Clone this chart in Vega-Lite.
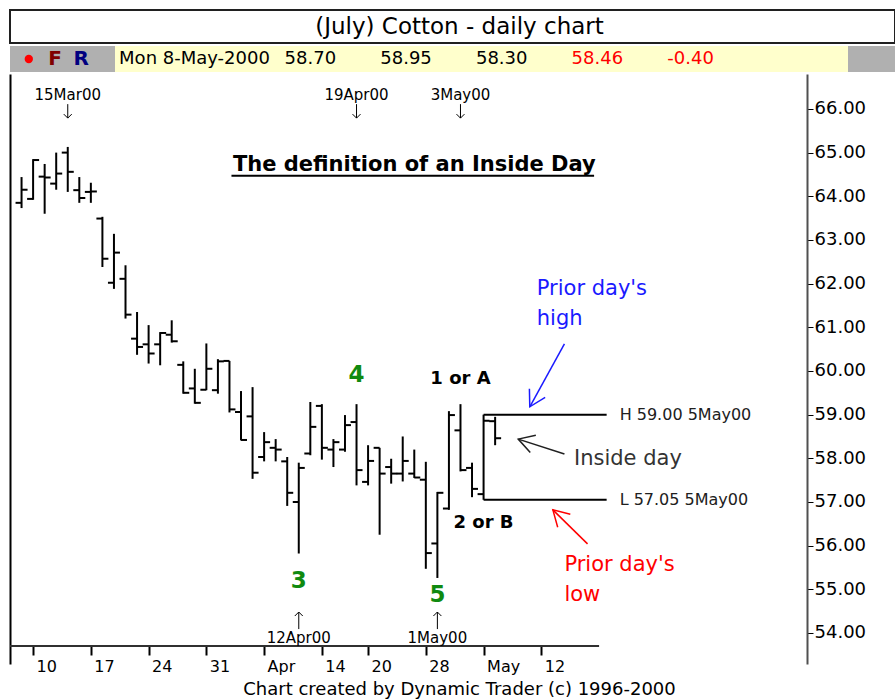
{
  "$schema": "https://vega.github.io/schema/vega-lite/v6.json",
  "background": "white",
  "padding": {"left": 9, "top": 9, "right": 0, "bottom": 0},
  "spacing": 2,
  "resolve": {"scale": {"color": "independent"}},
  "config": {"view": {"stroke": null}, "font": "DejaVu Sans", "axis": {"grid": false}},
  "datasets": {
    "bars": [
      {"date": "2000-03-09", "open": 63.85, "high": 64.44, "low": 63.73, "close": 64.15},
      {"date": "2000-03-10", "open": 63.94, "high": 64.85, "low": 63.92, "close": 64.83},
      {"date": "2000-03-13", "open": 64.45, "high": 64.74, "low": 63.60, "close": 64.43},
      {"date": "2000-03-14", "open": 64.29, "high": 65.00, "low": 64.15, "close": 64.52},
      {"date": "2000-03-15", "open": 65.00, "high": 65.13, "low": 64.10, "close": 64.56},
      {"date": "2000-03-16", "open": 64.14, "high": 64.44, "low": 63.85, "close": 63.96},
      {"date": "2000-03-17", "open": 64.10, "high": 64.31, "low": 63.85, "close": 64.11},
      {"date": "2000-03-20", "open": 63.49, "high": 63.53, "low": 62.38, "close": 62.57},
      {"date": "2000-03-21", "open": 62.02, "high": 63.14, "low": 61.88, "close": 62.71},
      {"date": "2000-03-22", "open": 62.11, "high": 62.42, "low": 61.20, "close": 61.29},
      {"date": "2000-03-23", "open": 60.74, "high": 61.35, "low": 60.37, "close": 60.55},
      {"date": "2000-03-24", "open": 60.61, "high": 61.05, "low": 60.17, "close": 60.40},
      {"date": "2000-03-27", "open": 60.61, "high": 60.89, "low": 60.13, "close": 60.87},
      {"date": "2000-03-28", "open": 60.83, "high": 61.16, "low": 60.65, "close": 60.68},
      {"date": "2000-03-29", "open": 60.14, "high": 60.22, "low": 59.48, "close": 59.50},
      {"date": "2000-03-30", "open": 59.60, "high": 60.05, "low": 59.25, "close": 59.27},
      {"date": "2000-03-31", "open": 59.57, "high": 60.63, "low": 59.56, "close": 60.05},
      {"date": "2000-04-03", "open": 59.56, "high": 60.27, "low": 59.48, "close": 60.22},
      {"date": "2000-04-04", "open": 60.23, "high": 60.23, "low": 59.05, "close": 59.12},
      {"date": "2000-04-05", "open": 59.06, "high": 59.54, "low": 58.41, "close": 58.42},
      {"date": "2000-04-06", "open": 58.96, "high": 59.63, "low": 57.53, "close": 57.67},
      {"date": "2000-04-07", "open": 58.03, "high": 58.60, "low": 57.93, "close": 58.37},
      {"date": "2000-04-10", "open": 58.24, "high": 58.44, "low": 57.93, "close": 58.20},
      {"date": "2000-04-11", "open": 57.93, "high": 58.03, "low": 56.91, "close": 57.21},
      {"date": "2000-04-12", "open": 57.00, "high": 57.90, "low": 55.82, "close": 57.78},
      {"date": "2000-04-13", "open": 58.11, "high": 59.29, "low": 58.07, "close": 58.72},
      {"date": "2000-04-14", "open": 59.20, "high": 59.24, "low": 57.97, "close": 58.24},
      {"date": "2000-04-17", "open": 58.20, "high": 58.44, "low": 57.80, "close": 58.37},
      {"date": "2000-04-18", "open": 58.20, "high": 58.99, "low": 58.15, "close": 58.76},
      {"date": "2000-04-19", "open": 58.83, "high": 59.24, "low": 57.38, "close": 57.73},
      {"date": "2000-04-20", "open": 57.46, "high": 58.30, "low": 57.38, "close": 57.94},
      {"date": "2000-04-24", "open": 58.24, "high": 58.24, "low": 56.25, "close": 57.65},
      {"date": "2000-04-25", "open": 57.80, "high": 57.99, "low": 57.42, "close": 57.65},
      {"date": "2000-04-26", "open": 57.65, "high": 58.50, "low": 57.47, "close": 57.94},
      {"date": "2000-04-27", "open": 57.65, "high": 58.20, "low": 57.55, "close": 57.56},
      {"date": "2000-04-28", "open": 57.51, "high": 57.92, "low": 55.47, "close": 55.83},
      {"date": "2000-05-01", "open": 56.05, "high": 57.23, "low": 55.26, "close": 57.21},
      {"date": "2000-05-02", "open": 56.85, "high": 59.08, "low": 56.82, "close": 58.99},
      {"date": "2000-05-03", "open": 58.64, "high": 59.24, "low": 57.70, "close": 57.73},
      {"date": "2000-05-04", "open": 57.78, "high": 57.90, "low": 57.11, "close": 57.30},
      {"date": "2000-05-05", "open": 57.18, "high": 59.00, "low": 57.05, "close": 58.86},
      {"date": "2000-05-08", "open": 58.85, "high": 58.95, "low": 58.30, "close": 58.46}
    ],
    "hl": [
      {"date": "2000-05-05", "date2": "2000-05-22", "price": 59.00, "label": "H 59.00 5May00"},
      {"date": "2000-05-05", "date2": "2000-05-22", "price": 57.05, "label": "L 57.05 5May00"}
    ],
    "topDates": [
      {"date": "2000-03-15", "label": "15Mar00"},
      {"date": "2000-04-19", "label": "19Apr00"},
      {"date": "2000-05-03", "label": "3May00"}
    ],
    "bottomDates": [
      {"date": "2000-04-12", "label": "12Apr00"},
      {"date": "2000-05-01", "label": "1May00"}
    ],
    "green": [
      {"date": "2000-04-19", "price": 59.75, "label": "4"},
      {"date": "2000-04-12", "price": 55.04, "label": "3"},
      {"date": "2000-05-01", "price": 54.71, "label": "5"}
    ],
    "waves": [
      {"date": "2000-05-03", "price": 59.70, "label": "1 or A"},
      {"date": "2000-05-05", "price": 56.40, "label": "2 or B"}
    ],
    "heading": [{"date": "2000-04-27", "price": 64.58, "label": "The definition of an Inside Day"}],
    "underline": [{"date": "2000-04-04", "date2": "2000-05-19", "price": 64.47}],
    "blueNote": [
      {"date": "2000-05-11", "price": 61.74, "label": "Prior day's"},
      {"date": "2000-05-11", "price": 61.05, "label": "high"}
    ],
    "redNote": [
      {"date": "2000-05-16", "price": 55.41, "label": "Prior day's"},
      {"date": "2000-05-16", "price": 54.73, "label": "low"}
    ],
    "insideNote": [{"date": "2000-05-17", "price": 57.84, "label": "Inside day"}],
    "blueArrow": [{"date": "2000-05-16", "price": 60.62, "date2": "2000-05-11", "price2": 59.18}],
    "blackArrow": [{"date": "2000-05-16", "price": 58.10, "date2": "2000-05-10", "price2": 58.44}],
    "redArrow": [{"date": "2000-05-18", "price": 56.04, "date2": "2000-05-15", "price2": 56.82}],
    "xline": [{"date": "2000-03-08", "date2": "2000-05-19"}]
  },
  "vconcat": [
    {
      "width": 885, "height": 33,
      "view": {"stroke": "#202020", "strokeWidth": 2, "fill": "white"},
      "data": {"values": [{"t": "(July) Cotton - daily chart"}]},
      "mark": {"type": "text", "fontSize": 23, "color": "black", "dx": 7},
      "encoding": {"text": {"field": "t"}}
    },
    {
      "spacing": 0,
      "resolve": {"scale": {"color": "independent"}},
      "hconcat": [
        {
          "width": 105, "height": 26,
          "view": {"fill": "#b0b0b0"},
          "data": {"values": [{"item": "dot"}, {"item": "F"}, {"item": "R"}]},
          "encoding": {
            "x": {"field": "item", "type": "nominal", "axis": null, "scale": {"type": "point", "domain": ["dot", "F", "R"], "padding": 1.02, "align": 0.358}},
            "color": {"field": "item", "type": "nominal", "legend": null, "scale": {"domain": ["dot", "F", "R"], "range": ["#ff0000", "#800000", "#000080"]}}
          },
          "layer": [
            {"transform": [{"filter": "datum.item == 'dot'"}], "mark": {"type": "point", "filled": true, "size": 70, "opacity": 1}},
            {"transform": [{"filter": "datum.item != 'dot'"}], "mark": {"type": "text", "fontSize": 20, "fontWeight": "bold"}, "encoding": {"text": {"field": "item"}}}
          ]
        },
        {
          "width": 159, "height": 26,
          "view": {"fill": "#ffffcc"},
          "data": {"values": [{"d": "Mon 8-May-2000"}]},
          "mark": {"type": "text", "fontSize": 18, "color": "black"},
          "encoding": {"text": {"field": "d"}}
        },
        {
          "width": 574, "height": 26,
          "view": {"fill": "#ffffcc"},
          "data": {"values": [
            {"item": "open", "v": "58.70"},
            {"item": "high", "v": "58.95"},
            {"item": "low", "v": "58.30"},
            {"item": "close", "v": "58.46"},
            {"item": "change", "v": "-0.40"}
          ]},
          "mark": {"type": "text", "fontSize": 18, "align": "left"},
          "encoding": {
            "x": {"field": "item", "type": "nominal", "axis": null, "scale": {"type": "point", "domain": ["open", "high", "low", "close", "change"], "padding": 2.025, "align": 0.0554}},
            "text": {"field": "v"},
            "color": {"field": "item", "type": "nominal", "legend": null, "scale": {"domain": ["open", "high", "low", "close", "change"], "range": ["#000000", "#000000", "#000000", "#ff0000", "#ff0000"]}}
          }
        },
        {
          "width": 47, "height": 26,
          "view": {"fill": "#b0b0b0"},
          "data": {"values": [{}]},
          "mark": {"type": "rect", "color": "#b0b0b0"},
          "encoding": {}
        }
      ]
    },
    {
      "width": 797, "height": 590,
      "resolve": {"axis": {"x": "independent", "y": "independent"}},
      "encoding": {
        "x": {
          "field": "date", "type": "ordinal", "axis": null,
          "scale": {"type": "point", "padding": 0, "domain": ["2000-03-08","2000-03-09","2000-03-10","2000-03-13","2000-03-14","2000-03-15","2000-03-16","2000-03-17","2000-03-20","2000-03-21","2000-03-22","2000-03-23","2000-03-24","2000-03-27","2000-03-28","2000-03-29","2000-03-30","2000-03-31","2000-04-03","2000-04-04","2000-04-05","2000-04-06","2000-04-07","2000-04-10","2000-04-11","2000-04-12","2000-04-13","2000-04-14","2000-04-17","2000-04-18","2000-04-19","2000-04-20","2000-04-24","2000-04-25","2000-04-26","2000-04-27","2000-04-28","2000-05-01","2000-05-02","2000-05-03","2000-05-04","2000-05-05","2000-05-08","2000-05-09","2000-05-10","2000-05-11","2000-05-12","2000-05-15","2000-05-16","2000-05-17","2000-05-18","2000-05-19","2000-05-22","2000-05-23","2000-05-24","2000-05-25","2000-05-26","2000-05-30","2000-05-31","2000-06-01","2000-06-02","2000-06-05","2000-06-06","2000-06-07","2000-06-08","2000-06-09","2000-06-12","2000-06-13","2000-06-14","2000-06-15"]}
        }
      },
      "layer": [
        {
          "data": {"name": "xline"},
          "mark": {"type": "rule", "strokeWidth": 2, "color": "#303030"},
          "encoding": {
            "x": {
              "field": "date", "type": "ordinal",
              "axis": {
                "orient": "bottom", "offset": -18,
                "values": ["2000-03-10","2000-03-17","2000-03-24","2000-03-31","2000-04-07","2000-04-14","2000-04-20","2000-04-28","2000-05-05","2000-05-12"],
                "labelExpr": "datum.value == '2000-04-07' ? 'Apr' : datum.value == '2000-05-05' ? 'May' : substring(datum.value, 8, 10)",
                "title": null, "domain": false, "ticks": true, "tickSize": 9, "tickColor": "#000000", "tickWidth": 2,
                "labelAlign": "left", "labelOffset": 3, "labelPadding": 3, "labelFontSize": 16, "labelColor": "#000000",
                "labelAngle": 0, "labelBaseline": "top", "labelOverlap": false, "grid": false
              }
            },
            "x2": {"field": "date2"},
            "y": {"datum": 53.70, "type": "quantitative", "axis": null}
          }
        },
        {
          "data": {"name": "bars"},
          "mark": {"type": "rule", "strokeWidth": 2, "color": "black"},
          "encoding": {
            "y": {"field": "low", "type": "quantitative",
              "scale": {"domain": [53.29, 66.8], "nice": false, "zero": false},
              "axis": {"orient": "right", "values": [54,55,56,57,58,59,60,61,62,63,64,65,66], "format": ".2f", "title": null,
                "domainColor": "#505050", "domainWidth": 2, "tickColor": "black", "tickSize": 6, "tickWidth": 1,
                "labelFontSize": 18, "labelColor": "black", "labelPadding": 1, "grid": false}},
            "y2": {"field": "high"}
          }
        },
        {
          "data": {"name": "bars"},
          "mark": {"type": "rule", "strokeWidth": 2, "color": "black", "x2Offset": -6},
          "encoding": {
            "x2": {"field": "date"},
            "y": {"field": "open", "type": "quantitative",
              "axis": {"orient": "left", "labels": false, "ticks": false, "title": null, "domainColor": "black", "domainWidth": 2, "grid": false}}
          }
        },
        {
          "data": {"name": "bars"},
          "mark": {"type": "rule", "strokeWidth": 2, "color": "black", "x2Offset": 6},
          "encoding": {"x2": {"field": "date"}, "y": {"field": "close", "type": "quantitative", "axis": null}}
        },
        {
          "data": {"name": "hl"},
          "mark": {"type": "rule", "strokeWidth": 2, "color": "black", "x2Offset": -4},
          "encoding": {"x2": {"field": "date2"}, "y": {"field": "price", "type": "quantitative", "axis": null}}
        },
        {
          "data": {"name": "hl"},
          "mark": {"type": "text", "fontSize": 16, "align": "left", "baseline": "middle", "dx": 9, "color": "#202020"},
          "encoding": {"x": {"field": "date2", "type": "ordinal", "axis": null}, "y": {"field": "price", "type": "quantitative", "axis": null}, "text": {"field": "label"}}
        },
        {
          "data": {"name": "topDates"},
          "mark": {"type": "text", "fontSize": 15, "align": "center", "baseline": "alphabetic", "color": "black"},
          "encoding": {"y": {"datum": 66.21, "type": "quantitative", "axis": null}, "text": {"field": "label"}}
        },
        {
          "data": {"name": "topDates"},
          "mark": {"type": "rule", "color": "black", "strokeWidth": 1},
          "encoding": {"y": {"datum": 66.11, "type": "quantitative", "axis": null}, "y2": {"datum": 65.79}}
        },
        {
          "data": {"name": "topDates"},
          "mark": {"type": "point", "shape": "M-1,1L0,0L1,1", "size": 64, "angle": 180, "filled": false, "color": "black", "strokeWidth": 1, "opacity": 1},
          "encoding": {"y": {"datum": 65.79, "type": "quantitative", "axis": null}}
        },
        {
          "data": {"name": "bottomDates"},
          "mark": {"type": "text", "fontSize": 15, "align": "center", "baseline": "alphabetic", "color": "black"},
          "encoding": {"y": {"datum": 53.78, "type": "quantitative", "axis": null}, "text": {"field": "label"}}
        },
        {
          "data": {"name": "bottomDates"},
          "mark": {"type": "rule", "color": "black", "strokeWidth": 1},
          "encoding": {"y": {"datum": 54.09, "type": "quantitative", "axis": null}, "y2": {"datum": 54.48}}
        },
        {
          "data": {"name": "bottomDates"},
          "mark": {"type": "point", "shape": "M-1,1L0,0L1,1", "size": 64, "angle": 0, "filled": false, "color": "black", "strokeWidth": 1, "opacity": 1},
          "encoding": {"y": {"datum": 54.48, "type": "quantitative", "axis": null}}
        },
        {
          "data": {"name": "green"},
          "mark": {"type": "text", "fontSize": 23, "fontWeight": "bold", "align": "center", "baseline": "alphabetic", "color": "#108a10"},
          "encoding": {"y": {"field": "price", "type": "quantitative", "axis": null}, "text": {"field": "label"}}
        },
        {
          "data": {"name": "waves"},
          "mark": {"type": "text", "fontSize": 18, "fontWeight": "bold", "align": "center", "baseline": "alphabetic", "color": "black"},
          "encoding": {"y": {"field": "price", "type": "quantitative", "axis": null}, "text": {"field": "label"}}
        },
        {
          "data": {"name": "heading"},
          "mark": {"type": "text", "fontSize": 21, "fontWeight": "bold", "align": "center", "baseline": "alphabetic", "color": "black"},
          "encoding": {"y": {"field": "price", "type": "quantitative", "axis": null}, "text": {"field": "label"}}
        },
        {
          "data": {"name": "underline"},
          "mark": {"type": "rule", "strokeWidth": 2, "color": "black", "xOffset": 2, "x2Offset": -5},
          "encoding": {"x2": {"field": "date2"}, "y": {"field": "price", "type": "quantitative", "axis": null}}
        },
        {
          "data": {"name": "blueNote"},
          "mark": {"type": "text", "fontSize": 21, "align": "left", "baseline": "alphabetic", "dx": 7, "color": "#1a1aff"},
          "encoding": {"y": {"field": "price", "type": "quantitative", "axis": null}, "text": {"field": "label"}}
        },
        {
          "data": {"name": "redNote"},
          "mark": {"type": "text", "fontSize": 21, "align": "left", "baseline": "alphabetic", "color": "#ff0000"},
          "encoding": {"y": {"field": "price", "type": "quantitative", "axis": null}, "text": {"field": "label"}}
        },
        {
          "data": {"name": "insideNote"},
          "mark": {"type": "text", "fontSize": 21, "align": "left", "baseline": "alphabetic", "dx": -2, "color": "#333333"},
          "encoding": {"y": {"field": "price", "type": "quantitative", "axis": null}, "text": {"field": "label"}}
        },
        {
          "data": {"name": "blueArrow"},
          "mark": {"type": "rule", "color": "#1a1aff", "strokeWidth": 1.5},
          "encoding": {"x2": {"field": "date2"}, "y": {"field": "price", "type": "quantitative", "axis": null}, "y2": {"field": "price2"}}
        },
        {
          "data": {"name": "blueArrow"},
          "mark": {"type": "point", "shape": "M-0.5,0.866L0,0L0.5,0.866", "size": 1296, "angle": 208.8, "filled": false, "color": "#1a1aff", "strokeWidth": 1.5, "opacity": 1},
          "encoding": {"x": {"field": "date2", "type": "ordinal", "axis": null}, "y": {"field": "price2", "type": "quantitative", "axis": null}}
        },
        {
          "data": {"name": "blackArrow"},
          "mark": {"type": "rule", "color": "#202020", "strokeWidth": 1.5},
          "encoding": {"x2": {"field": "date2"}, "y": {"field": "price", "type": "quantitative", "axis": null}, "y2": {"field": "price2"}}
        },
        {
          "data": {"name": "blackArrow"},
          "mark": {"type": "point", "shape": "M-0.5,0.866L0,0L0.5,0.866", "size": 1296, "angle": 288, "filled": false, "color": "#202020", "strokeWidth": 1.5, "opacity": 1},
          "encoding": {"x": {"field": "date2", "type": "ordinal", "axis": null}, "y": {"field": "price2", "type": "quantitative", "axis": null}}
        },
        {
          "data": {"name": "redArrow"},
          "mark": {"type": "rule", "color": "#ff0000", "strokeWidth": 1.5},
          "encoding": {"x2": {"field": "date2"}, "y": {"field": "price", "type": "quantitative", "axis": null}, "y2": {"field": "price2"}}
        },
        {
          "data": {"name": "redArrow"},
          "mark": {"type": "point", "shape": "M-0.5,0.866L0,0L0.5,0.866", "size": 1296, "angle": 314.5, "filled": false, "color": "#ff0000", "strokeWidth": 1.5, "opacity": 1},
          "encoding": {"x": {"field": "date2", "type": "ordinal", "axis": null}, "y": {"field": "price2", "type": "quantitative", "axis": null}}
        }
      ]
    },
    {
      "width": 885, "height": 22,
      "data": {"values": [{"t": "Chart created by Dynamic Trader (c) 1996-2000"}]},
      "mark": {"type": "text", "fontSize": 18, "color": "black", "dx": 7, "dy": 3},
      "encoding": {"text": {"field": "t"}}
    }
  ]
}
